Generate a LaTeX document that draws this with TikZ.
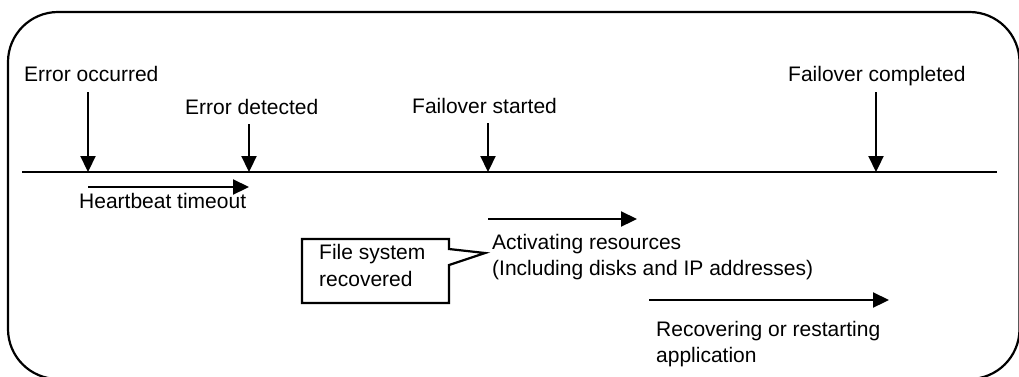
\documentclass[tikz,border=0pt]{standalone}
\usepackage{fontspec}
\setmainfont{Liberation Sans}
\usetikzlibrary{arrows.meta,positioning}
\newcommand{\drawthick}{\draw[line width=2.2pt]}
\newcommand{\drawarrow}{\draw[line width=2.2pt,-{Triangle[length=16pt,width=15pt]}]}
\tikzset{lbl/.style={inner sep=0pt,anchor=base west}}

\begin{document}
\begin{tikzpicture}[x=1pt,y=-1pt,font=\fontsize{21}{26}\selectfont]
\useasboundingbox (0,0) rectangle (1019,376);
\drawthick[rounded corners=50pt] (8,12) rectangle (1019.5,379);
% time line
\coordinate (tl0) at (22,172);
\coordinate (tl1) at (997,172);
\drawthick (tl0) -- (tl1);
% events
\node[lbl] (occ) at (24,81) {Error occurred};
\node[lbl] (det) at (185,114) {Error detected};
\node[lbl] (fst) at (412,113) {Failover started};
\node[lbl] (fcp) at (788,81) {Failover completed};
\coordinate (occ0) at (88,92);   \coordinate (occ1) at (88,172);
\coordinate (det0) at (249,124); \coordinate (det1) at (249,172);
\coordinate (fst0) at (488,123); \coordinate (fst1) at (488,172);
\coordinate (fcp0) at (876,92);  \coordinate (fcp1) at (876,172);
\drawarrow (occ0) -- (occ1);
\drawarrow (det0) -- (det1);
\drawarrow (fst0) -- (fst1);
\drawarrow (fcp0) -- (fcp1);
% phases
\coordinate (hb0) at (88,187);  \coordinate (hb1) at (249,187);
\coordinate (act0) at (488,219); \coordinate (act1) at (637,219);
\coordinate (rec0) at (649,300); \coordinate (rec1) at (889,300);
\drawarrow (hb0) -- (hb1);
\drawarrow (act0) -- (act1);
\drawarrow (rec0) -- (rec1);
\node[lbl] (hb) at (79,208) {Heartbeat timeout};
\node[lbl] (actA) at (492,249) {Activating resources};
\node[lbl] (actB) at (492,275) {(Including disks and IP addresses)};
\node[lbl] (recA) at (656,336) {Recovering or restarting};
\node[lbl] (recB) at (656,362) {application};
% callout
\coordinate (tip) at (485,253);
\drawthick[line join=miter] (302,239) -- (449,239) -- (449,249) -- (tip) -- (449,265) -- (449,303) -- (302,303) -- cycle;
\node[lbl] (fsA) at (319,259) {File system};
\node[lbl] (fsB) at (319,286) {recovered};
\end{tikzpicture}
\end{document}
